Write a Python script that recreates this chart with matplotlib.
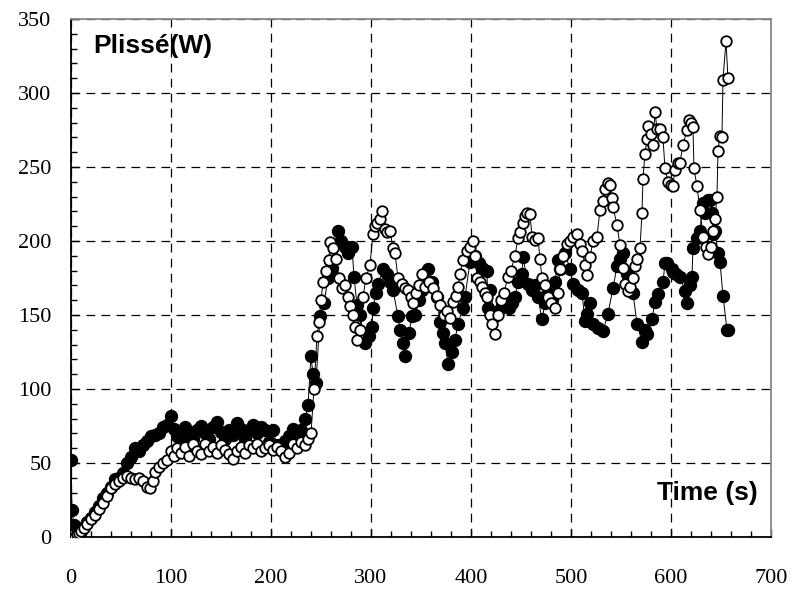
import matplotlib
matplotlib.use('Agg')
import matplotlib.pyplot as plt
from matplotlib.ticker import MultipleLocator

# filled circles
t_filled = [0, 1, 3, 5, 8, 10, 13, 16, 20, 24, 28, 32, 36, 40, 44, 48, 52, 56, 60, 64,
            68, 72, 76, 80, 84, 88, 92, 96, 100, 103, 106, 110, 114, 118, 122, 126, 130, 134, 138, 142,
            146, 150, 154, 158, 162, 166, 170, 174, 178, 182, 186, 190, 194, 198, 202, 206, 210, 214, 218, 222,
            226, 230, 234, 237, 240, 242, 245, 249, 253, 257, 261, 264, 267, 270, 274, 277, 281, 283, 286, 289,
            294, 298, 301, 302, 305, 307, 312, 316, 319, 322, 327, 329, 332, 334, 338, 341, 344, 348, 351, 354,
            357, 361, 366, 369, 372, 374, 377, 381, 384, 387, 392, 394, 399, 404, 408, 411, 416, 417, 419, 424,
            427, 431, 434, 438, 441, 444, 447, 451, 452, 457, 461, 464, 467, 471, 474, 477, 481, 484, 487, 489,
            494, 499, 502, 507, 511, 514, 516, 519, 522, 527, 532, 537, 542, 546, 549, 552, 556, 559, 562, 566,
            571, 574, 576, 581, 584, 587, 592, 594, 596, 601, 602, 605, 609, 614, 616, 619, 621, 622, 626, 629,
            632, 634, 637, 639, 641, 642, 644, 647, 649, 652, 656, 657]
p_filled = [52, 18, 8, 3, 2, 4, 7, 10, 13, 17, 21, 26, 30, 34, 39, 40, 43, 50, 54, 60,
            58, 62, 65, 68, 69, 70, 74, 76, 82, 73, 68, 65, 74, 70, 66, 72, 75, 70, 66, 74,
            78, 71, 66, 72, 69, 77, 73, 66, 72, 76, 70, 74, 72, 64, 72, 62, 60, 65, 68, 73,
            70, 72, 80, 89, 122, 110, 104, 149, 158, 175, 182, 198, 207, 200, 196, 192, 196, 176, 157, 150,
            131, 136, 142, 155, 165, 171, 181, 178, 172, 167, 149, 140, 131, 122, 138, 149, 150, 160, 167, 172,
            181, 172, 162, 145, 138, 131, 117, 125, 133, 144, 155, 162, 186, 190, 185, 182, 180, 155, 167, 149,
            153, 158, 160, 155, 158, 162, 172, 178, 189, 171, 167, 170, 162, 147, 158, 165, 160, 172, 187, 181,
            192, 181, 171, 167, 165, 146, 151, 158, 144, 141, 139, 151, 168, 183, 188, 192, 178, 176, 165, 144,
            132, 140, 137, 147, 159, 164, 172, 185, 185, 181, 179, 178, 176, 166, 158, 170, 176, 195, 202, 207,
            226, 219, 228, 228, 219, 205, 207, 192, 186, 163, 140, 140]

# open circles
t_open = [0, 2, 4, 6, 8, 10, 13, 16, 20, 24, 28, 32, 36, 40, 44, 48, 52, 56, 60, 64,
          68, 72, 76, 79, 82, 84, 88, 92, 96, 100, 103, 106, 110, 114, 118, 122, 126, 130, 134, 138,
          142, 146, 150, 154, 158, 162, 166, 170, 174, 178, 182, 186, 190, 194, 198, 202, 206, 210, 214, 218,
          222, 226, 230, 234, 237, 240, 243, 246, 248, 250, 252, 255, 258, 259, 262, 265, 268, 271, 274, 277,
          279, 282, 284, 286, 289, 292, 295, 299, 302, 304, 306, 309, 311, 314, 316, 319, 322, 324, 327, 331,
          334, 337, 340, 342, 345, 348, 351, 354, 358, 362, 366, 369, 373, 376, 379, 382, 385, 387, 389, 392,
          396, 399, 402, 404, 406, 409, 411, 414, 416, 419, 421, 424, 427, 430, 433, 437, 440, 444, 447, 449,
          452, 454, 456, 459, 461, 464, 467, 469, 471, 474, 477, 480, 484, 487, 489, 492, 496, 499, 502, 506,
          509, 511, 514, 516, 519, 522, 526, 529, 532, 534, 537, 539, 541, 542, 546, 549, 552, 554, 557, 559,
          562, 564, 566, 569, 571, 572, 574, 576, 577, 580, 582, 584, 586, 589, 592, 594, 597, 600, 602, 604,
          607, 609, 612, 616, 618, 620, 622, 623, 626, 629, 632, 635, 637, 640, 642, 644, 646, 647, 649, 651,
          652, 655, 657]
p_open = [0, 1, 0, 2, 3, 4, 6, 9, 12, 15, 19, 23, 28, 33, 36, 38, 40, 41, 40, 39,
          40, 38, 34, 33, 38, 44, 47, 50, 52, 58, 55, 60, 57, 61, 55, 63, 58, 56, 63, 58,
          61, 57, 62, 59, 56, 53, 58, 61, 57, 62, 60, 63, 58, 60, 62, 59, 61, 58, 54, 57,
          63, 60, 64, 62, 66, 70, 100, 136, 145, 160, 172, 180, 187, 199, 195, 188, 175, 168, 170, 162,
          156, 150, 142, 133, 140, 162, 175, 184, 205, 210, 212, 215, 220, 208, 206, 207, 195, 192, 175, 171,
          168, 167, 162, 158, 165, 170, 178, 169, 172, 168, 163, 157, 150, 153, 148, 159, 163, 169, 178, 187,
          193, 196, 200, 190, 175, 172, 169, 165, 162, 150, 144, 137, 150, 160, 165, 176, 180, 190, 202, 206,
          212, 217, 219, 218, 203, 201, 202, 188, 175, 170, 162, 158, 155, 165, 181, 190, 198, 200, 203, 205,
          198, 193, 184, 177, 189, 200, 203, 221, 227, 235, 239, 238, 229, 223, 211, 197, 182, 171, 166, 169,
          175, 183, 188, 195, 219, 242, 259, 269, 278, 272, 265, 287, 276, 276, 270, 249, 240, 238, 237, 248,
          253, 253, 265, 275, 282, 280, 277, 249, 237, 221, 203, 196, 191, 196, 207, 215, 230, 261, 271, 270,
          309, 335, 310]


def main():
    fig = plt.figure(figsize=(7.94, 5.94), dpi=100)
    ax = fig.add_axes([0.0894, 0.096, 0.8816, 0.872])

    ax.plot(t_filled, p_filled, color='black', lw=0.7, marker='o', ms=8.6,
            mfc='black', mec='black', zorder=3)
    ax.plot(t_open, p_open, color='black', lw=0.7, marker='o', ms=7.6,
            mfc='white', mec='black', mew=1.3, zorder=4)

    ax.set_xlim(0, 700)
    ax.set_ylim(0, 350)
    ax.xaxis.set_major_locator(MultipleLocator(100))
    ax.xaxis.set_minor_locator(MultipleLocator(20))
    ax.yaxis.set_major_locator(MultipleLocator(50))
    ax.yaxis.set_minor_locator(MultipleLocator(10))

    ax.grid(True, which='major', color='black', lw=0.9, linestyle=(0, (7, 5)))
    ax.set_axisbelow(True)

    ax.tick_params(which='both', direction='in', color='black', width=1)
    ax.tick_params(which='major', length=6)
    ax.tick_params(which='minor', length=4)
    ax.tick_params(axis='x', which='major', pad=23)
    ax.tick_params(axis='y', which='major', pad=14)
    for lab in ax.get_xticklabels() + ax.get_yticklabels():
        lab.set_family('Liberation Serif')
        lab.set_fontsize(16)

    for s in ['left', 'bottom']:
        ax.spines[s].set_color('black')
        ax.spines[s].set_linewidth(1.3)
    for s in ['top', 'right']:
        ax.spines[s].set_color('#888888')
        ax.spines[s].set_linewidth(1.3)

    ax.text(22, 332, 'Plissé(W)', family='Liberation Sans', weight='bold',
            fontsize=19, ha='left', va='center')
    ax.text(687, 30, 'Time (s)', family='Liberation Sans', weight='bold',
            fontsize=19, ha='right', va='center')

    fig.savefig('out.png', dpi=100)


if __name__ == "__main__":
    main()
